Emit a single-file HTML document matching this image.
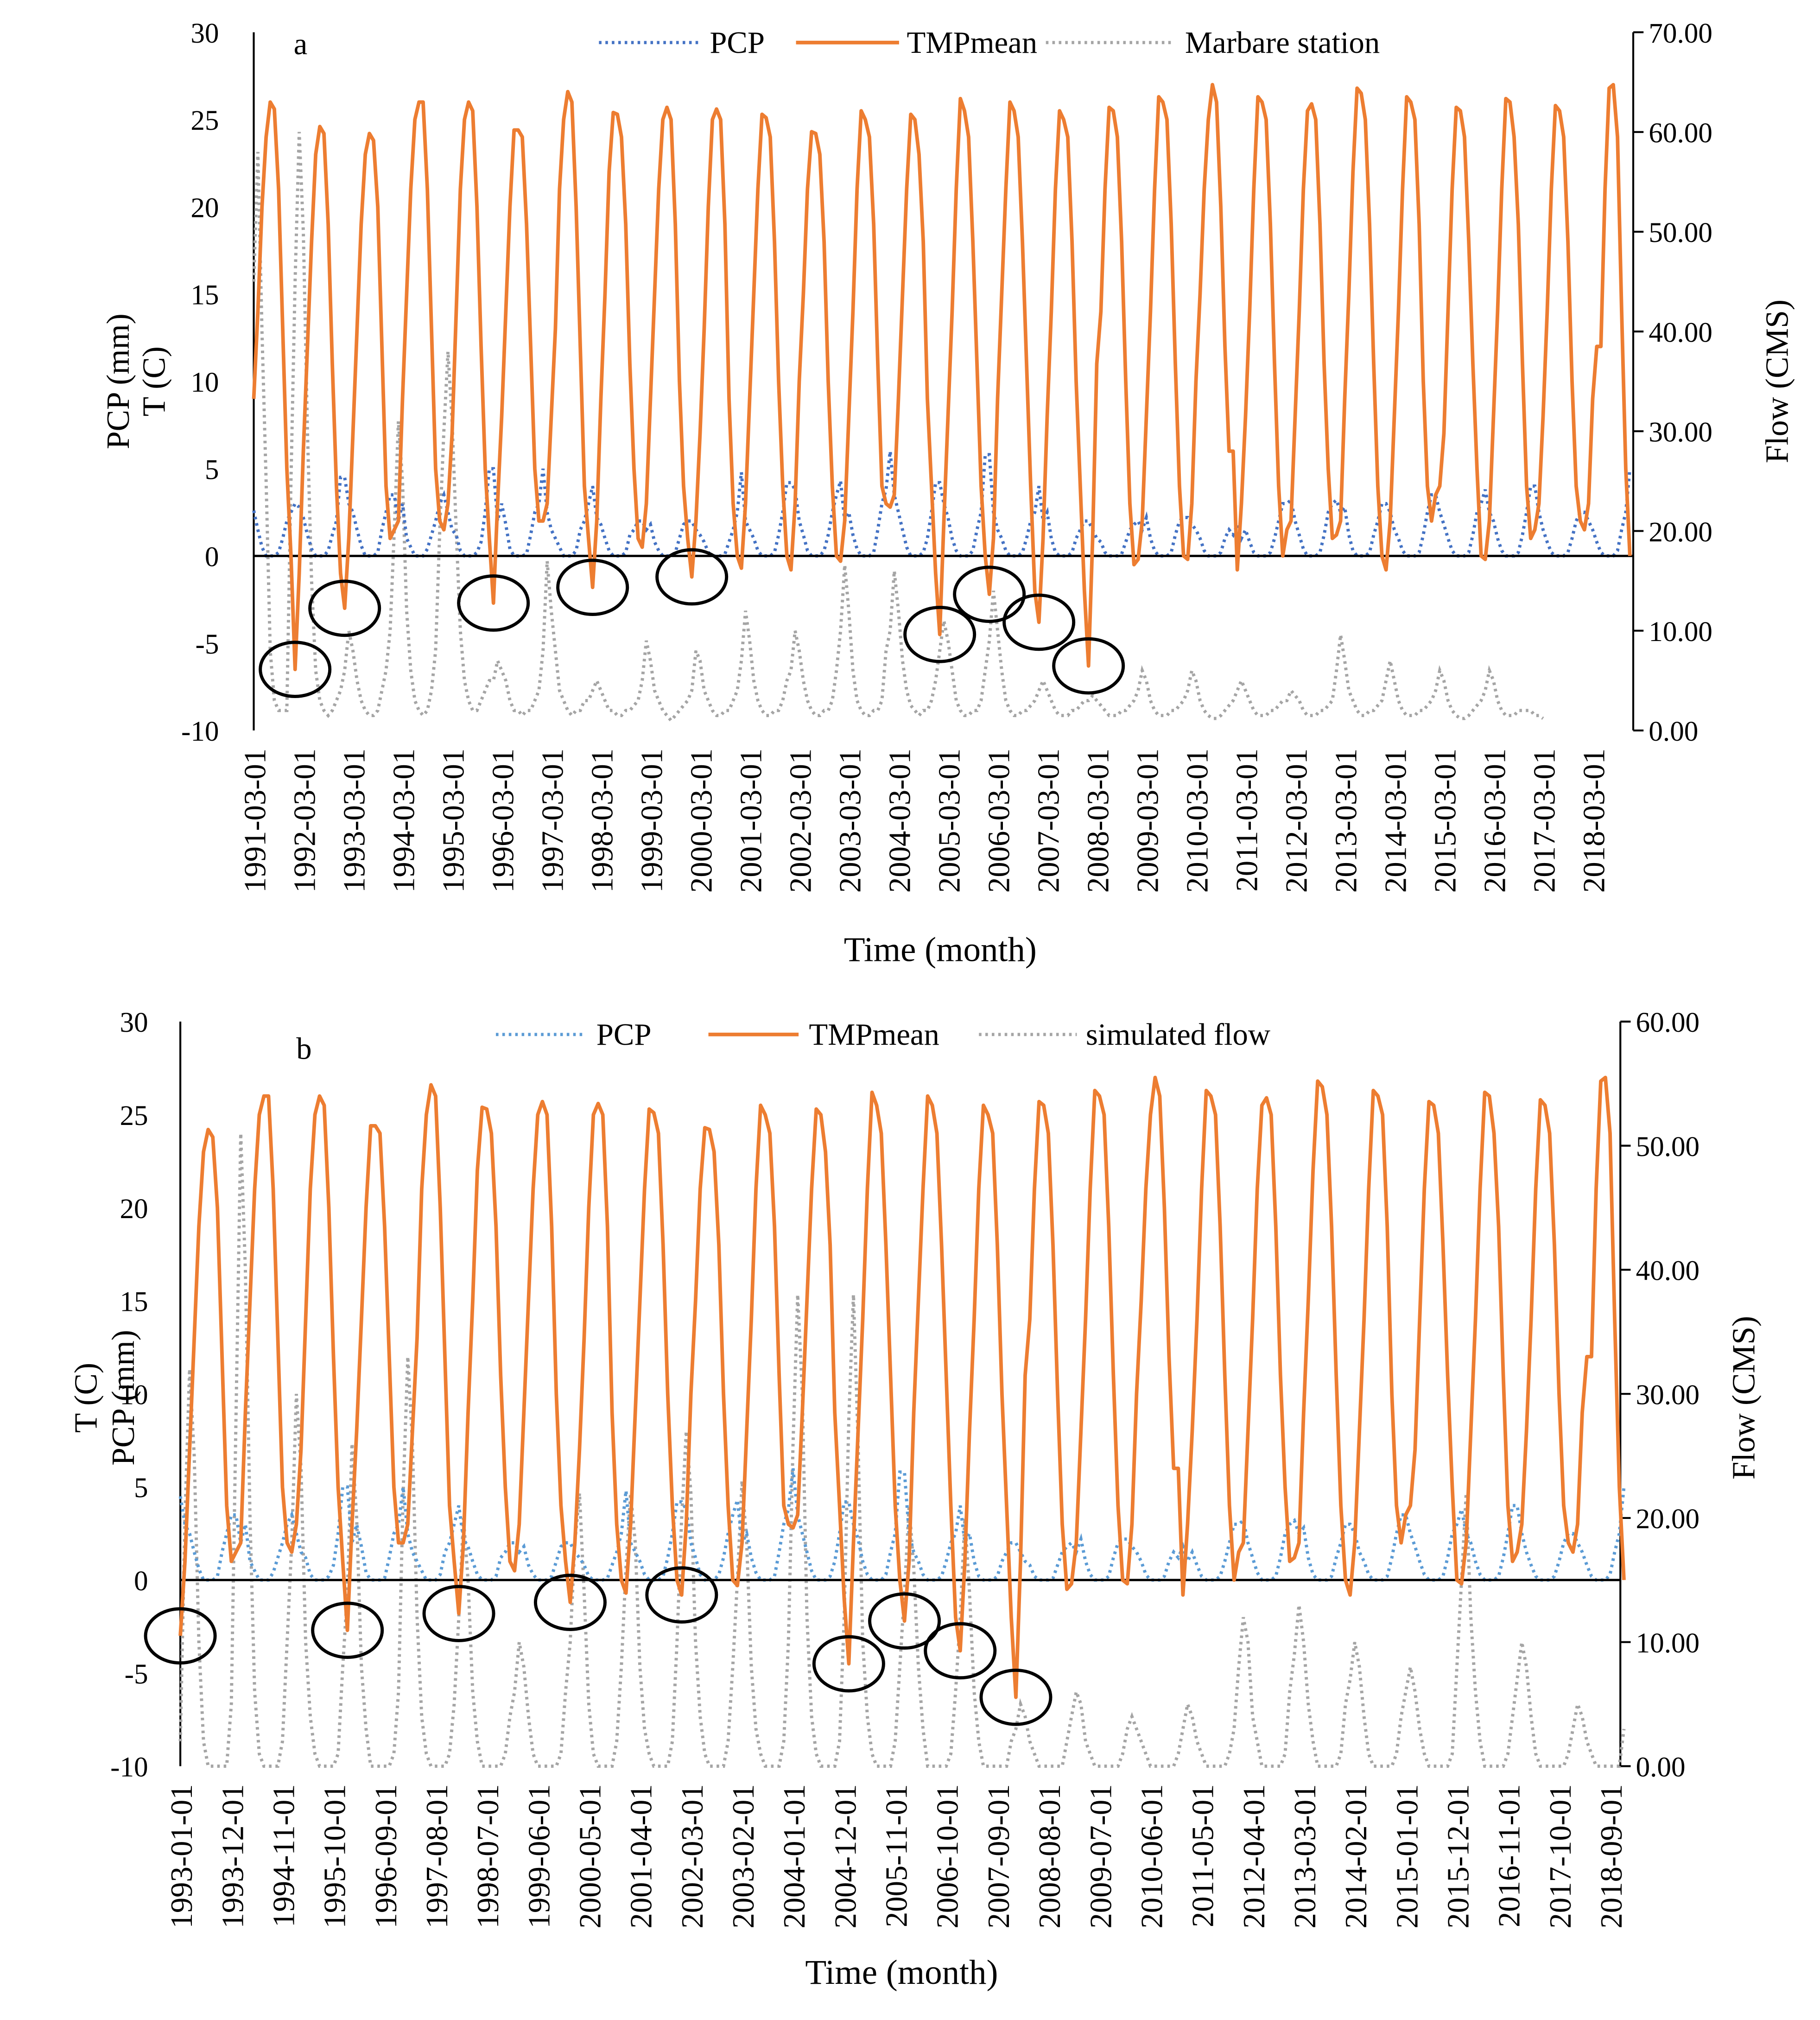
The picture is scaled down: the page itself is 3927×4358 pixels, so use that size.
<!DOCTYPE html>
<html><head><meta charset="utf-8"><style>
html,body{margin:0;padding:0;background:#fff;}
svg{display:block;}
text{font-family:"Liberation Serif",serif;fill:#000;}
</style></head><body>
<svg id="chart" width="3927" height="4358" viewBox="0 0 1413 1568" xmlns="http://www.w3.org/2000/svg">
<g id="pa"></g>
<g id="pb"></g>
</svg>
<script>
// Monthly mean temperature rows (Jan..Dec), 1991..2018
const tmpRows = [
[2,4,9,14,20,24,26,25.6,21,13,5,0],
[-6.5,-1,6,12,18,23,24.6,24.2,19,11,4,-1],
[-3,1,7,13,19,23,24.2,23.8,20,12,4,1],
[1.5,2,9,15,21,25,26,26,21,13,5,2],
[1.5,3,7,14,21,25,26,25.5,20,12,5,1],
[-2.7,3,8,14,20,24.4,24.4,24,19,12,5,2],
[2,3,8,13,21,25,26.6,26,20,12,4,1],
[-1.8,2,9,15,22,25.4,25.3,24,19,11,5,1],
[0.5,3,9,15,21,25,25.7,25,19,10,4,1],
[-1.2,2,7,13,20,25,25.6,25,19,9,3,0],
[-0.7,3,9,15,21,25.3,25.1,24,18,10,4,0],
[-0.8,3,10,15,21,24.3,24.2,23,18,10,4,0],
[-0.3,2,8,14,21,25.5,25,24,19,11,4,3],
[2.8,3.5,9,15,21,25.3,25,23,18,9,4,-1],
[-4.5,2,8,14,21,26.2,25.5,24,18,11,4,0],
[-2.2,1,9,15,21,26,25.5,24,18,11,4,-2],
[-3.8,1,8,14,21,25.5,25,24,18,10,4,-2],
[-6.3,1,11,14,21,25.7,25.5,24,18,10,3,-0.5],
[-0.2,2,8,14,21,26.3,26,25,19,11,4,0],
[-0.2,3,10,15,21,25,27,26,20,12,6,6],
[-0.8,3,8,14,21,26.3,26,25,19,11,4,0],
[1.5,2,8,14,21,25.5,25.9,25,19,11,5,1],
[1.2,2,9,15,22,26.8,26.5,25,19,11,4,0],
[-0.8,2,8,14,21,26.3,26,25,19,10,4,2],
[3.5,4,7,14,21,25.7,25.5,24,18,11,5,0],
[-0.2,2,8,14,21,26.2,26,24,19,11,4,1],
[1.5,3,8,14,21,25.8,25.5,24,18,10,4,2],
[1.5,3,9,12,12,21,26.8,27,24,14,5,0]
];
// Monthly precipitation rows (mm), 1991..2018
const pcpRows = [
[2,2.5,2.6,1.5,0.5,0,0,0,0.2,1,2,2.5],
[3,2.8,2.2,1.2,0.4,0,0,0,0.3,1.2,2,4.5],
[4.5,3,2.5,1.5,0.6,0,0,0,0.2,1.5,2.5,3.5],
[3.5,2,3,1,0.5,0,0,0,0.4,1.2,2,3],
[3.5,2.5,1.5,1.2,0.3,0,0,0,0.2,0.8,2.5,5],
[5,2,3,1.8,0.4,0,0,0,0.1,1.2,2.5,3],
[5,2.5,1.5,1,0.5,0,0,0,0.3,1.5,2,3],
[4,2.2,1.8,1,0.3,0,0,0,0.2,1.2,1.5,2],
[2,1.5,1.8,0.8,0.3,0,0,0,0.2,1,1.8,2],
[2,1.5,1.2,0.8,0.2,0,0,0,0.1,0.8,1.5,2.5],
[4.8,2,1.5,1,0.3,0,0,0,0.2,1.2,2.5,4.2],
[4.2,3.8,2,1.2,0.3,0,0,0,0.3,1.2,2.5,3.5],
[4.3,2,2.5,1.2,0.4,0,0,0,0.2,1.5,3,3.8],
[6,3.5,2.5,1.5,0.5,0,0,0,0.2,1,2.5,4.2],
[4.2,3,2.2,1,0.3,0,0,0,0.3,1.5,2.5,5.8],
[5.8,2.5,1.5,1,0.3,0,0,0,0.2,1,2,2.5],
[4,2,2.5,1,0.2,0,0,0,0.2,1,1.5,2],
[2,1.5,1,0.8,0.2,0,0,0,0.1,0.8,1.5,1.8],
[2,1.5,2.2,1,0.3,0,0,0,0.2,1.2,2,2.2],
[2.2,1.8,1.5,1,0.3,0,0,0,0.2,1,1.5,1.2],
[1.8,1,1.5,0.8,0.2,0,0,0,0.2,1,2,3],
[3,3.2,2,1.2,0.4,0,0,0,0.2,1.2,2.5,3],
[3.2,2.5,2.8,1.2,0.3,0,0,0,0.2,1.2,2,3],
[3,2.5,1.5,1,0.3,0,0,0,0.2,1.2,2.5,3.5],
[3.5,2.5,1.8,1,0.3,0,0,0,0.2,1.2,2.5,3],
[3.8,2.5,2,1,0.3,0,0,0,0.2,1.2,2.5,4],
[4,2.5,1.5,0.8,0.2,0,0,0,0.2,1,2,2.5],
[2.5,2,1.5,0.8,0.2,0,0,0,0.3,1.5,2.5,5]
];
// Observed flow at Marbare station (CMS), 1991..2017
const obsRows = [
[10,30,45,58,40,25,8,3,2,2,2,25],
[45,60,50,30,15,6,3,2,1.5,2,3,4],
[6,10,8,5,3,2,1.5,1.5,2,4,6,10],
[20,31,25,12,6,3,2,1.5,2,4,8,20],
[30,38,31,20,10,5,3,2,2,3,4,5],
[5,7,6,5,3,2,2,1.5,2,2,3,4],
[8,17,12,8,4,3,2,1.5,2,2,3,3],
[4,5,4,3,2,2,1.5,1.5,2,2,2.5,3],
[5,9,7,4,3,2,1.5,1,1.5,2,2.5,3],
[4,8,7,4,3,2,1.5,1.5,2,2,3,4],
[7,12,9,5,3,2,1.5,1.5,2,2,3,5],
[6,10,8,5,3,2,1.5,1.5,2,2,3,6],
[10,16.6,12,6,3,2,1.5,1.5,2,2,3,8],
[10,16,12,7,4,2.5,2,1.5,2,2,3,5],
[8,11,9,6,3,2,1.5,1.5,2,2,3,6],
[9,14,10,6,3,2,1.5,1.5,2,2,2.5,3],
[4,5,4,3,2,1.5,1.5,1.5,2,2,2.5,3],
[3,3.5,3,2.5,2,1.5,1.5,1.5,2,2,2.5,3],
[4,6,5,3,2,1.5,1.5,1.5,2,2,2.5,3],
[4,6,5,3,2,1.5,1.2,1.2,1.5,2,2.5,3],
[4,5,4,3,2,1.5,1.5,1.5,2,2,2.5,3],
[3,4,3.5,3,2,1.5,1.5,1.5,2,2,2.5,3],
[6,9.6,7,4,3,2,1.5,1.5,2,2,2.5,3],
[5,7,5,3,2,1.5,1.5,1.5,2,2,2.5,3],
[4,6,5,3,2,1.5,1.2,1.2,1.5,2,2.5,3],
[4,6,5,3,2,1.5,1.5,1.5,2,2,2,2],
[1.5,1.5,1.2]
];
// Simulated flow (CMS), 1993..2018
const simRows = [
[2,20,32,25,10,2,0,0,0,0,0,5],
[28,51,40,20,6,1,0,0,0,0,2,10],
[18,30,24,10,4,1,0,0,0,0,1,8],
[14,26,20,8,3,0,0,0,0,0,1,6],
[22,33,26,12,4,1,0,0,0,0,1,5],
[12,20,15,6,2,0,0,0,0,0,1,4],
[6,10,8,4,1,0,0,0,0,0,1,6],
[10,18,22,14,5,1,0,0,0,0,2,8],
[16,22,18,8,3,1,0,0,0,0,2,10],
[20,27,22,10,4,1,0,0,0,0,2,8],
[15,23,18,8,3,1,0,0,0,0,2,10],
[26,38,30,12,4,1,0,0,0,0,2,12],
[28,38,26,10,4,1,0,0,0,0,2,8],
[14,21,16,8,3,0,0,0,0,0,1,6],
[12,20,14,6,2,0,0,0,0,0,0,2],
[3,5,4,2,1,0,0,0,0,0,0,2],
[4,6,5,2,1,0,0,0,0,0,0,1],
[3,4,3,2,1,0,0,0,0,0,0,1],
[3,5,4,2,1,0,0,0,0,0,1,3],
[8,12,10,4,2,0,0,0,0,0,1,6],
[9,13,10,5,2,0,0,0,0,0,1,5],
[7,10,8,4,1,0,0,0,0,0,1,4],
[6,8,6,3,1,0,0,0,0,0,1,8],
[15,22,12,6,2,0,0,0,0,0,1,4],
[7,10,8,4,1,0,0,0,0,0,0,1],
[3,5,4,2,1,0,0,0,0,0,0,3]
];
const xTicksA = ["1991-03-01","1992-03-01","1993-03-01","1994-03-01","1995-03-01","1996-03-01","1997-03-01","1998-03-01","1999-03-01","2000-03-01","2001-03-01","2002-03-01","2003-03-01","2004-03-01","2005-03-01","2006-03-01","2007-03-01","2008-03-01","2009-03-01","2010-03-01","2011-03-01","2012-03-01","2013-03-01","2014-03-01","2015-03-01","2016-03-01","2017-03-01","2018-03-01"];
const xTicksB = ["1993-01-01","1993-12-01","1994-11-01","1995-10-01","1996-09-01","1997-08-01","1998-07-01","1999-06-01","2000-05-01","2001-04-01","2002-03-01","2003-02-01","2004-01-01","2004-12-01","2005-11-01","2006-10-01","2007-09-01","2008-08-01","2009-07-01","2010-06-01","2011-05-01","2012-04-01","2013-03-01","2014-02-01","2015-01-01","2015-12-01","2016-11-01","2017-10-01","2018-09-01"];
const leftTicks = [30,25,20,15,10,5,0,-5,-10];
const rightTicksA = [70,60,50,40,30,20,10,0];
const rightTicksB = [60,50,40,30,20,10,0];
// circled cold months: [year, month index 0-11]
const circlesA = [[1992,0],[1993,0],[1996,0],[1998,0],[2000,0],[2005,0],[2006,0],[2007,0],[2008,0]];
const circlesB = [[1993,0],[1996,0],[1998,0],[2000,0],[2002,0],[2005,0],[2006,0],[2007,0],[2008,0]];

const NS="http://www.w3.org/2000/svg";
function mk(parent,tag,attrs,txt){const e=document.createElementNS(NS,tag);for(const k in attrs)e.setAttribute(k,attrs[k]);if(txt!==undefined)e.textContent=txt;parent.appendChild(e);return e;}

function drawPanel(g,cfg){
  const yL=v=>cfg.y0+(30-v)*(cfg.y1-cfg.y0)/40;
  const yR=v=>cfg.y1-v*(cfg.y1-cfg.y0)/cfg.rmax;
  const xM=(yr,m)=>cfg.x0+((yr-cfg.sy)*12+m-cfg.sm)*cfg.dx;
  let e=mk(g,'line',{x1:cfg.x0,y1:cfg.y0,x2:cfg.x0,y2:cfg.y1,stroke:'#000','stroke-width':1.5});
  
  e=mk(g,'line',{x1:cfg.xr,y1:cfg.y0,x2:cfg.xr,y2:cfg.y1,stroke:'#000','stroke-width':1.5});
  
  leftTicks.forEach(v=>{const t=mk(g,'text',{x:cfg.lx,y:yL(v)+8,'text-anchor':'end','font-size':22},String(v));
    });
  cfg.rt.forEach(v=>{mk(g,'line',{x1:cfg.xr,y1:yR(v),x2:cfg.xr+8,y2:yR(v),stroke:'#000','stroke-width':1.5});
    const t=mk(g,'text',{x:cfg.xr+12,y:yR(v)+8,'font-size':22},v.toFixed(2));
    });
  cfg.xt.forEach((s,i)=>{const x=cfg.x0+i*cfg.tickStep*cfg.dx;
    const t=mk(g,'text',{transform:`translate(${x+9},${cfg.y1+14}) rotate(-90)`,'text-anchor':'end','font-size':24},s);
    });
  function series(rows,sy,yfn,style,name){
    let d='',first=true;
    rows.forEach((r,yi)=>r.forEach((v,m)=>{const yr=sy+yi;const idx=(yr-cfg.sy)*12+m-cfg.sm;
      if(idx<0||idx>=cfg.n)return;d+=(first?'M':'L')+xM(yr,m).toFixed(1)+','+yfn(v).toFixed(1);first=false;}));
    const p=mk(g,'path',Object.assign({d:d,fill:'none'},style));
    
  }
  series(cfg.flow,cfg.fsy,yR,{stroke:'#A5A5A5','stroke-width':2.5,'stroke-dasharray':'2,3'},'flow-series');
  series(pcpRows,1991,yL,{stroke:cfg.pc,'stroke-width':2.5,'stroke-dasharray':'2,3'},'pcp-series');
  e=mk(g,'line',{x1:cfg.x0,y1:yL(0),x2:cfg.xr,y2:yL(0),stroke:'#000','stroke-width':1.8});
  
  series(tmpRows,1991,yL,{stroke:'#ED7D31','stroke-width':2.8,'stroke-linejoin':'round'},'tmpmean-series');
  cfg.circ.forEach(c=>{const el=mk(g,'ellipse',{cx:xM(c[0],c[1]),cy:yL(tmpRows[c[0]-1991][c[1]]),rx:27,ry:21,fill:'none',stroke:'#000','stroke-width':2.5});
    });
  cfg.lt.forEach(t=>{const el=mk(g,'text',{transform:`translate(${t[1]},${cfg.ly}) rotate(-90)`,'text-anchor':'middle','font-size':25},t[0]);
    });
  e=mk(g,'text',{transform:`translate(${cfg.rtx},${cfg.ly}) rotate(-90)`,'text-anchor':'middle','font-size':25},'Flow (CMS)');
  
  e=mk(g,'text',{x:cfg.tx,y:cfg.ty,'text-anchor':'middle','font-size':27},'Time (month)');
  
  e=mk(g,'text',{x:cfg.pl[0],y:cfg.pl[1],'font-size':24},cfg.plabel);
  
  cfg.leg.forEach(l=>{const gg=mk(g,'g',{});
    mk(gg,'line',Object.assign({x1:l[1],y1:cfg.legY,x2:l[2],y2:cfg.legY},l[4]));
    mk(gg,'text',{x:l[3],y:cfg.legY+8,'font-size':24},l[0]);});
}
const dot=c=>({stroke:c,'stroke-width':2.5,'stroke-dasharray':'2,3'});
drawPanel(document.getElementById('pa'),{x0:197,xr:1268,y0:25,y1:567,rmax:70,sy:1991,sm:2,n:334,dx:38.5/12,tickStep:12,
  xt:xTicksA,rt:rightTicksA,lx:170,flow:obsRows,fsy:1991,pc:'#4472C4',circ:circlesA,
  lt:[['PCP (mm)',100],['T (C)',128]],ly:296,rtx:1388,tx:730,ty:746,pl:[228,42],plabel:'a',legY:33,
  leg:[['PCP',465,545,551,dot('#4472C4')],['TMPmean',618,698,704,{stroke:'#ED7D31','stroke-width':2.8}],['Marbare station',812,912,920,dot('#A5A5A5')]]});
drawPanel(document.getElementById('pb'),{x0:140,xr:1258,y0:793,y1:1371,rmax:60,sy:1993,sm:0,n:312,dx:1110/308,tickStep:11,
  xt:xTicksB,rt:rightTicksB,lx:115,flow:simRows,fsy:1993,pc:'#5B9BD5',circ:circlesB,
  lt:[['T (C)',75],['PCP (mm)',104]],ly:1085,rtx:1362,tx:700,ty:1540,pl:[230,822],plabel:'b',legY:803,
  leg:[['PCP',385,455,463,dot('#5B9BD5')],['TMPmean',550,620,628,{stroke:'#ED7D31','stroke-width':2.8}],['simulated flow',760,836,843,dot('#A5A5A5')]]});
</script>
</body></html>
